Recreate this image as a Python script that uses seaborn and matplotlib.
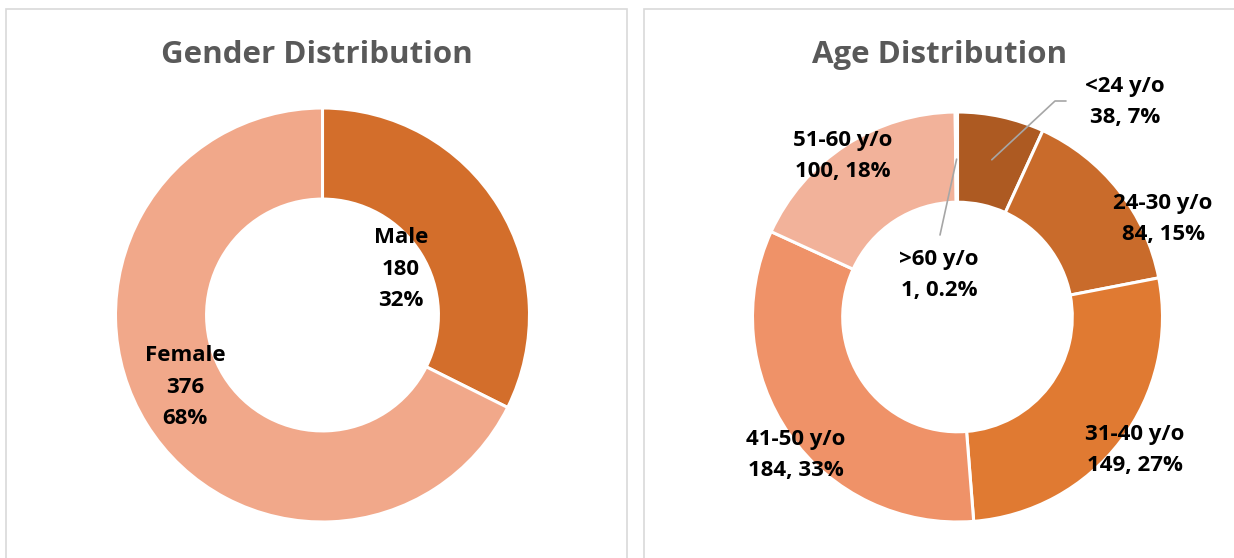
import matplotlib
matplotlib.use("Agg")
import matplotlib.pyplot as plt
import seaborn as sns
import numpy as np
from matplotlib.patches import Rectangle

# data
gender_labels = ["Male", "Female"]
gender_counts = [180, 376]
gender_pcts = ["32%", "68%"]

age_labels = ["<24 y/o", "24-30 y/o", "31-40 y/o", "41-50 y/o", "51-60 y/o", ">60 y/o"]
age_counts = [38, 84, 149, 184, 100, 1]
age_pcts = ["7%", "15%", "27%", "33%", "18%", "0.2%"]

gender_colors = ["#D36E2B", "#F1A88A"]
age_colors = ["#AD5A22", "#C96B2B", "#E07A32", "#EF9268", "#F2B29A", "#F2B29A"]

sns.set_theme(style="white")
plt.rcParams["font.family"] = ["Open Sans", "DejaVu Sans"]

W, H = 1234, 558
fig = plt.figure(figsize=(W / 100, H / 100), dpi=100)

# panel frames
for x0, x1 in [(6, 627), (644, 1240)]:
    fig.patches.append(Rectangle((x0 / W, -0.1), (x1 - x0) / W, 1.1 - 9 / H,
                                 transform=fig.transFigure, fill=False,
                                 edgecolor="#D9D9D9", linewidth=1.2))

fig.text(316.5 / W, 1 - 63 / H, "Gender Distribution", ha="center", va="baseline",
         fontsize=22.5, fontweight="bold", color="#595959")
fig.text(940 / W, 1 - 63 / H, "Age Distribution", ha="center", va="baseline",
         fontsize=22.5, fontweight="bold", color="#595959")


def donut(cx, cy, R, values, colors):
    ax = fig.add_axes([(cx - R) / W, (H - cy - R) / H, 2 * R / W, 2 * R / H])
    ax.pie(values, colors=colors, startangle=90, counterclock=False, radius=1,
           wedgeprops=dict(width=0.44, edgecolor="white", linewidth=2.2))
    ax.set_xlim(-1, 1)
    ax.set_ylim(-1, 1)
    ax.set_aspect("equal")
    ax.axis("off")
    return ax


label_kw = dict(ha="center", va="center", fontsize=16, fontweight="bold",
                color="black", linespacing=1.68)

# gender donut
ax1 = donut(322.5, 315, 207, gender_counts, gender_colors)
gender_pos = [(0.379, 0.222), (-0.664, -0.348)]
for (x, y), lab, n, p in zip(gender_pos, gender_labels, gender_counts, gender_pcts):
    ax1.text(x, y, f"{lab}\n{n}\n{p}", **label_kw)

# age donut
cx, cy, R = 957.5, 317, 205
ax2 = donut(cx, cy, R, age_counts, age_colors)
age_pos = [(1125, 102), (1163, 219), (1135, 450), (796, 455), (843, 156), (939, 275)]
for (px, py), lab, n, p in zip(age_pos, age_labels, age_counts, age_pcts):
    ax2.text((px - cx) / R, (cy - py) / R, f"{lab}\n{n}, {p}", **label_kw)

# leader lines from the wedge middles
total = sum(age_counts)
cum = np.cumsum([0] + age_counts)
mid = [90 - 360 * (cum[i] + age_counts[i] / 2) / total for i in range(len(age_counts))]
a0 = np.radians(mid[0])
ax2.plot([0.785 * np.cos(a0), (1055 - cx) / R, (1066 - cx) / R],
         [0.785 * np.sin(a0), (cy - 101) / R, (cy - 101) / R],
         color="#A6A6A6", lw=1.2, clip_on=False)
a5 = np.radians(mid[5])
ax2.plot([0.77 * np.cos(a5), (940 - cx) / R],
         [0.77 * np.sin(a5), (cy - 235) / R],
         color="#A6A6A6", lw=1.2, clip_on=False)

fig.savefig("out.png", dpi=100, facecolor="white")
